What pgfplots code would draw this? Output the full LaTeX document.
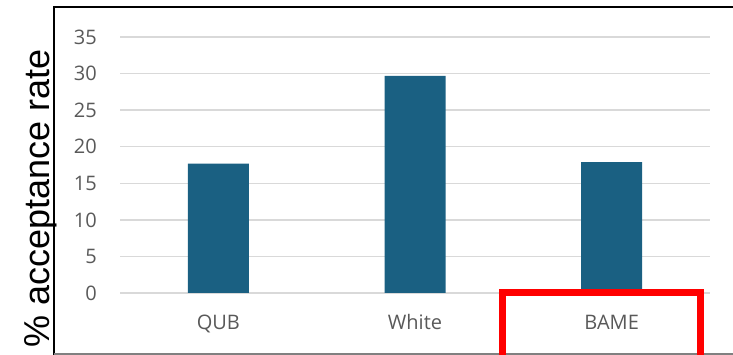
\documentclass[border=0pt]{standalone}
\usepackage{pgfplots}
\pgfplotsset{compat=1.18}
\usepackage{fontspec}
\setmainfont{Open Sans}
\newfontfamily\labelfont{Liberation Sans}
\definecolor{barblue}{HTML}{1A6082}
\definecolor{ticktext}{HTML}{595959}
\definecolor{gridgray}{HTML}{D9D9D9}

\pgfplotstableread{
idx rate
0 17.7
1 29.7
2 17.9
}\ratetable

\begin{document}
\begin{tikzpicture}[x=1pt,y=1pt]
\path[use as bounding box] (0,0) rectangle (733,355);
\begin{axis}[
  at={(120pt,62pt)}, anchor=south west,
  scale only axis, width=590pt, height=256pt,
  xmin=-0.5, xmax=2.5, ymin=0, ymax=35,
  ytick={0,5,...,35},
  xtick={0,1,2}, xticklabels={QUB,White,BAME},
  axis line style={draw=none},
  major tick length=0pt,
  ymajorgrids, grid style={gridgray, line width=1.5pt},
  tick label style={font=\fontsize{20}{22}\selectfont, text=ticktext},
  /pgf/number format/assume math mode=true,
  y tick label style={anchor=east, inner sep=0pt, xshift=-23pt},
  x tick label style={anchor=base, inner sep=0pt, yshift=-37pt},
  clip=false,
]
\addplot[ybar, bar width=61pt, fill=barblue, draw=none] table[x=idx, y=rate] {\ratetable};
\end{axis}
% y axis title, reading upwards from the bottom of the frame
\node[rotate=90, anchor=base west, inner sep=0pt, font=\labelfont\fontsize{36}{40}\selectfont]
  at (49,7) {\% acceptance rate};
% surrounding frame
\draw[black, line width=1.8pt] (54,0) -- (54,348) -- (740,348);
\draw[gray, line width=1.5pt] (54,1) -- (740,1);
% highlight box around BAME
\draw[red, line width=7pt] (502.5,-10) -- (502.5,62.5) -- (700.5,62.5) -- (700.5,-10);
\end{tikzpicture}
\end{document}
